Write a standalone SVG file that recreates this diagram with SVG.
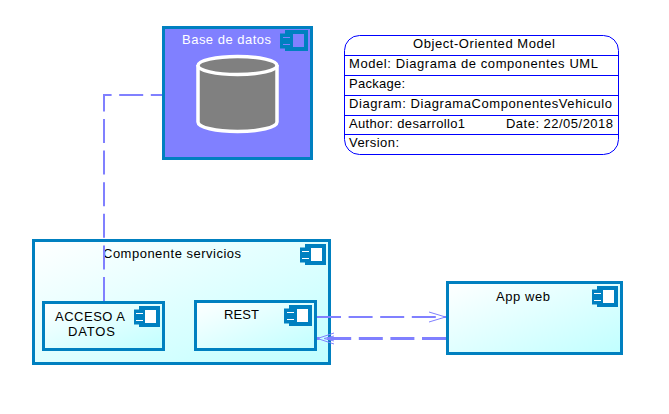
<svg xmlns="http://www.w3.org/2000/svg" width="669" height="414" viewBox="0 0 669 414">
<style>
text{font-family:"Liberation Sans",Arial,sans-serif;font-size:13px;fill:#000}
.box{stroke:#0080c0;stroke-width:3;fill:url(#g)}
.info{fill:none;stroke:#0000ff;stroke-width:1}
.c{fill:none;stroke:#8080ff;stroke-width:2;stroke-dasharray:24 7.6}
.h{fill:none;stroke:#8080ff;stroke-width:1}
</style>
<defs>
<linearGradient id="g" x1="0" y1="0" x2="1" y2="1"><stop offset="0" stop-color="#fff"/><stop offset="1" stop-color="#c0ffff"/></linearGradient>
<g id="ic">
<rect x="5" y="0" width="23" height="21" fill="#0080c0"/>
<rect x="13" y="4" width="11" height="13" fill="currentColor"/>
<rect x="0" y="3.500" width="13" height="15" fill="#0080c0"/>
<path d="M3 7.500H10M3 14.500H10" stroke="currentColor" fill="none"/>
</g>
<g id="ics">
<rect x="5" y="0" width="21" height="21" fill="#0080c0"/>
<rect x="11" y="4" width="11" height="13" fill="currentColor"/>
<rect x="0" y="3.500" width="11" height="15" fill="#0080c0"/>
<path d="M2 7.500H9M2 14.500H9" stroke="currentColor" fill="none"/>
</g>
</defs>
<rect width="669" height="414" fill="#fff"/>
<g id="base-de-datos">
<rect x="163.500" y="27.500" width="148" height="131" fill="#8080ff" stroke="#0080c0" stroke-width="3"/>
<text x="182" y="44" textLength="89" style="fill:#fff">Base de datos</text>
<use href="#ic" x="280" y="30" color="#8080ff"/>
<path d="M198 65V122C198 127.500 216 131.500 237.500 131.500S277 127.500 277 122V65" fill="#808080" stroke="#fff" stroke-width="3.500"/>
<ellipse cx="237.500" cy="65.500" rx="39.500" ry="9" fill="#808080" stroke="#fff" stroke-width="3.500"/>
</g>
<g id="info">
<rect class="info" x="344.500" y="35.500" width="274" height="119" rx="15"/>
<path class="info" d="M345 55.500H618M345 75.500H618M345 95.500H618M345 115.500H618M345 134.500H618"/>
<text x="413" y="48" textLength="142">Object-Oriented Model</text>
<text x="349" y="68" textLength="249">Model: Diagrama de componentes UML</text>
<text x="349" y="88" textLength="56">Package:</text>
<text x="349" y="108" textLength="263">Diagram: DiagramaComponentesVehiculo</text>
<text x="349" y="128" textLength="116">Author: desarrollo1</text>
<text x="506" y="128" textLength="107">Date: 22/05/2018</text>
<text x="349" y="147" textLength="50">Version:</text>
</g>
<g id="componente-servicios">
<rect class="box" x="33.500" y="240.500" width="296" height="123"/>
<text x="103" y="258" textLength="138">Componente servicios</text>
<use href="#ics" x="300" y="244" color="#fff"/>
</g>
<g id="acceso-a-datos">
<rect class="box" x="43.500" y="302.500" width="120" height="47"/>
<text x="55" y="321" textLength="70">ACCESO A</text>
<text x="68" y="336" textLength="47">DATOS</text>
<use href="#ics" x="134" y="306" color="#fff"/>
</g>
<g id="rest">
<rect class="box" x="195.500" y="301.500" width="120" height="48"/>
<text x="224" y="319" textLength="35">REST</text>
<use href="#ic" x="284" y="305" color="#fff"/>
</g>
<g id="app-web">
<rect class="box" x="447.500" y="282.500" width="174" height="71"/>
<text x="496" y="301" textLength="54">App web</text>
<use href="#ics" x="592" y="286" color="#fff"/>
</g>
<g id="connectors">
<path class="c" d="M104 301V95H162"/>
<path class="c" d="M317 317H446"/>
<path class="h" d="M429 312L445.500 317L429 322"/>
<path class="c" style="stroke-width:3" d="M446 338.500H317"/>
<path class="h" d="M334 333L317.500 338.500L334 344M334 336L324 338.500L334 341"/>
</g>
</svg>
